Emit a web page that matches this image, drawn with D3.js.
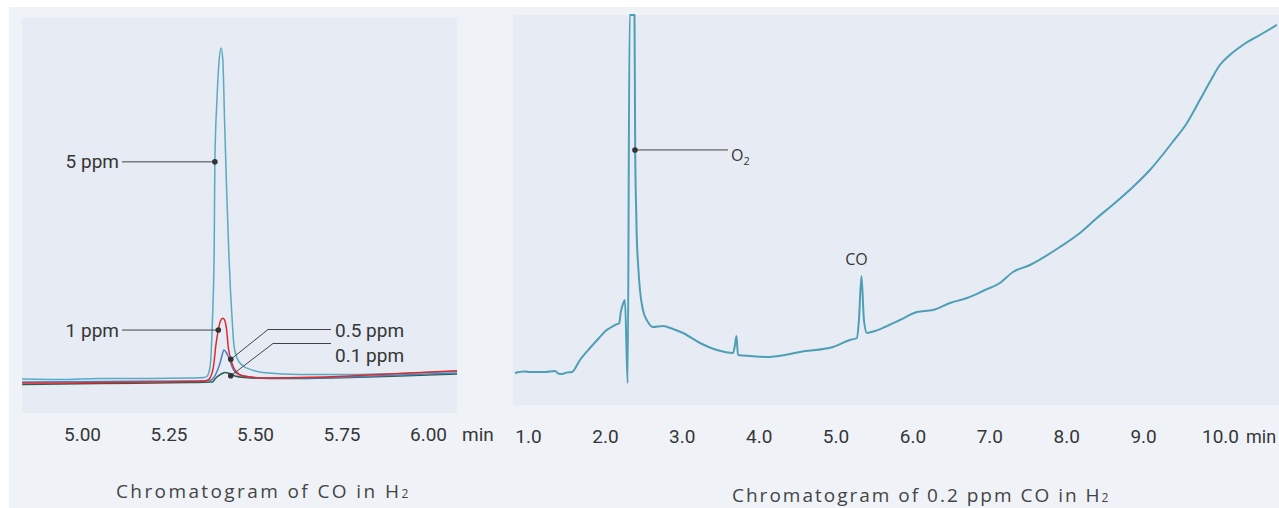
<!DOCTYPE html>
<html><head><meta charset="utf-8">
<script src="https://cdn.jsdelivr.net/npm/d3@7"></script>
<style>
html,body{margin:0;padding:0;background:#fff;}
svg{display:block;}
</style></head><body>
<svg id="c" width="1279" height="508"></svg>
<script>
// ---------- DATA ----------
const leftTicks = [5.00, 5.25, 5.50, 5.75, 6.00];
const rightTicks = [1, 2, 3, 4, 5, 6, 7, 8, 9, 10];
const axisUnit = "min";
const leftCaption = "Chromatogram of CO in H";
const rightCaption = "Chromatogram of 0.2 ppm CO in H";

// left panel: CO in H2, four concentrations (time min, signal)
const t01ppm = [4.827,5.052,5.312,5.376,5.387,5.396,5.405,5.413,5.422,5.431,5.442,5.471,5.543,5.630,5.775,5.919,6.084];
const v01ppm = [-1.34,-1.03,-0.73,-0.58,0.64,1.40,2.00,2.31,2.16,1.85,1.25,0.79,0.49,0.49,0.79,1.25,1.85];

const t05ppm = [4.827,5.052,5.312,5.370,5.384,5.393,5.399,5.405,5.410,5.416,5.422,5.428,5.434,5.442,5.457,5.486,5.529,5.630,5.775,5.919,6.084];
const v05ppm = [-0.58,-0.43,-0.27,-0.12,1.25,3.37,5.20,7.63,9.15,8.54,7.33,5.81,3.98,2.46,1.55,0.94,0.64,0.64,0.94,1.55,2.16];

const t5ppm = [4.827,4.936,5.052,5.197,5.312,5.353,5.361,5.370,5.377,5.382,5.384,5.390,5.396,5.402,5.407,5.412,5.418,5.424,5.429,5.434,5.439,5.448,5.462,5.491,5.529,5.630,5.775,5.919,6.084];
const v5ppm = [0.33,0.18,0.49,0.49,0.64,0.79,1.09,3.98,18.27,39.5,66.3,85.1,96.7,100.9,97.3,79.1,57.8,39.5,27.4,18.3,10.7,6.7,4.6,3.1,2.2,1.7,1.7,2.0,2.6];

const t1ppm = [4.827,4.936,5.052,5.197,5.312,5.355,5.364,5.370,5.380,5.387,5.394,5.400,5.407,5.412,5.418,5.423,5.429,5.437,5.447,5.457,5.486,5.514,5.630,5.775,5.919,6.084];
const v1ppm = [-0.88,-0.88,-0.73,-0.58,-0.43,-0.27,0.03,0.64,4.07,10.67,15.23,17.96,18.78,18.27,15.23,9.76,6.72,4.07,2.46,1.55,0.94,0.64,0.79,1.25,2.0,2.86];

const leftLabels = ["5 ppm", "1 ppm", "0.5 ppm", "0.1 ppm"];
const leftMarkT = [5.384, 5.394, 5.430, 5.430];
const leftMarkV = [66.3, 15.2, 6.3, 1.3];

// right panel: 0.2 ppm CO in H2
const tRight = [0.831,0.95,1.026,1.221,1.351,1.40,1.442,1.50,1.572,1.676,1.806,1.936,2.023,2.066,2.131,2.187,2.205,2.239,2.261,2.296,2.322,2.385,2.394,2.404,2.413,2.434,2.456,2.495,2.560,2.625,2.756,2.886,3.016,3.237,3.458,3.666,3.692,3.711,3.731,3.887,4.108,4.342,4.537,4.966,5.187,5.278,5.304,5.337,5.369,5.408,5.512,5.642,5.837,6.058,6.267,6.488,6.709,6.943,7.138,7.307,7.528,7.918,8.178,8.399,8.633,8.867,9.088,9.374,9.570,9.738,9.868,9.998,10.128,10.298,10.519,10.740];
const vRight = [8.21,8.6,8.46,8.46,8.72,8.0,7.95,8.3,8.46,11.54,14.62,17.44,19.23,19.74,20.51,21.03,23.59,26.15,26.92,5.64,100,100,65.38,52.56,44.10,35.38,29.49,24.36,21.28,20.00,20.26,19.49,18.46,15.90,14.10,13.33,15.38,17.69,12.82,12.56,12.31,12.82,13.59,14.87,16.67,17.18,21.79,33.08,21.79,18.46,18.97,20.00,21.79,23.85,24.36,26.15,27.44,29.49,31.28,34.10,35.90,40.51,44.10,47.95,51.79,55.90,60.26,67.18,72.31,78.21,82.82,87.18,89.74,92.31,94.87,97.44];

const rightLabels = ["O", "CO"];
const rightMarkT = [2.391, 5.337];
const rightMarkV = [65.4, 33.08];

// ---------- DRAW ----------
const svg = d3.select("#c");
const txt = "#363636";
const labFont = "Roboto, 'Liberation Sans', sans-serif";
const capFont = "'Open Sans', 'Noto Sans', sans-serif";

svg.append("rect").attr("width",1279).attr("height",508).attr("fill","#ffffff");
svg.append("rect").attr("x",9).attr("y",7).attr("width",1270).attr("height",501).attr("fill","#eff3f8");
svg.append("rect").attr("x",22).attr("y",18).attr("width",435).attr("height",395).attr("fill","#e6ebf4");
svg.append("rect").attr("x",513).attr("y",15).attr("width",766).attr("height",390).attr("fill","#e6ebf4");

const xL = d3.scaleLinear().domain([5,6]).range([82,428]);
const yL = d3.scaleLinear().domain([-10,110]).range([413,18]);
const xR = d3.scaleLinear().domain([1,10]).range([528,1220]);
const yR = d3.scaleLinear().domain([0,100]).range([405,15]);

function zip(t,v){ return t.map((d,i)=>({t:d, v:v[i]})); }

const lineL = d3.line().x(d=>xL(d.t)).y(d=>yL(d.v)).curve(d3.curveMonotoneX);
const lineR = d3.line().x(d=>xR(d.t)).y(d=>yR(d.v)).curve(d3.curveMonotoneX);

const leftSeries = [
  {d: zip(t01ppm, v01ppm), c: "#2f5f52"},
  {d: zip(t05ppm, v05ppm), c: "#4f7fc2"},
  {d: zip(t5ppm, v5ppm),   c: "#5aaac1"},
  {d: zip(t1ppm, v1ppm),   c: "#de2a2e"}
];
svg.append("g").selectAll("path").data(leftSeries).join("path")
  .attr("d", s=>lineL(s.d)).attr("fill","none").attr("stroke", s=>s.c)
  .attr("stroke-width",1.5).attr("stroke-linejoin","round");

svg.append("path").attr("d", lineR(zip(tRight, vRight))).attr("fill","none")
  .attr("stroke","#4e9fb5").attr("stroke-width",2).attr("stroke-linejoin","round");

// axes
function styleAxis(g){
  g.select(".domain").remove();
  g.selectAll("text").attr("y",0).attr("dy",0)
    .attr("fill",txt).style("font-family",labFont).style("font-size","19px");
}
svg.append("g").attr("transform","translate(0,441)")
  .call(d3.axisBottom(xL).tickValues(leftTicks).tickFormat(d3.format(".2f")).tickSize(0).tickPadding(0))
  .call(styleAxis);
svg.append("g").attr("transform","translate(0,443)")
  .call(d3.axisBottom(xR).tickValues(rightTicks).tickFormat(d3.format(".1f")).tickSize(0).tickPadding(0))
  .call(styleAxis);
svg.append("text").attr("x",462).attr("y",441).text(axisUnit)
  .attr("fill",txt).style("font-family",labFont).style("font-size","19px");
svg.append("text").attr("x",1246).attr("y",443).text(axisUnit)
  .attr("fill",txt).style("font-family",labFont).style("font-size","18px");

// annotations
const ann = svg.append("g");
function dot(x,y){ ann.append("circle").attr("cx",x).attr("cy",y).attr("r",2.8).attr("fill","#333"); }
function seg(pts){ ann.append("path").attr("d", d3.line()(pts)).attr("fill","none").attr("stroke","#444").attr("stroke-width",1); }
function label(x,y,s,anchor){ ann.append("text").attr("x",x).attr("y",y).attr("text-anchor",anchor).text(s)
  .attr("fill",txt).style("font-family",labFont).style("font-size","19px"); }

{
  let px = leftMarkT.map(t=>xL(t)), py = leftMarkV.map(v=>yL(v));
  seg([[122,py[0]],[px[0],py[0]]]); dot(px[0],py[0]); label(119,py[0]+6.5,leftLabels[0],"end");
  seg([[122,py[1]],[px[1],py[1]]]); dot(px[1],py[1]); label(119,py[1]+6.5,leftLabels[1],"end");
  seg([[331,329.5],[268,329.5],[px[2],py[2]]]); dot(px[2],py[2]); label(335,337,leftLabels[2],"start");
  seg([[331,343.5],[273,343.5],[px[3],py[3]]]); dot(px[3],py[3]); label(335,362,leftLabels[3],"start");
}
{
  const ox = xR(rightMarkT[0]), oy = yR(rightMarkV[0]);
  seg([[ox,oy],[728,oy]]); dot(ox,oy);
  const t = ann.append("text").attr("x",731).attr("y",oy+11).attr("fill",txt)
    .style("font-family",capFont).style("font-size","16px");
  t.append("tspan").text(rightLabels[0]);
  t.append("tspan").attr("dy",4).style("font-size","11px").text("2");
  const cx = xR(rightMarkT[1]) - 5, cy = yR(rightMarkV[1]) - 11;
  ann.append("text").attr("x",cx).attr("y",cy).attr("text-anchor","middle").attr("fill",txt)
    .style("font-family",capFont).style("font-size","16px").text(rightLabels[1]);
}

// captions
function caption(x,y,s,ls){
  const t = svg.append("text").attr("x",x).attr("y",y).attr("fill","#444")
    .style("font-family",capFont).style("font-size","19px").style("letter-spacing",ls);
  t.append("tspan").text(s);
  t.append("tspan").style("font-size","12px").text("2");
}
caption(116,498,leftCaption,"2.4px");
caption(732,502,rightCaption,"2px");
</script>
</body></html>
